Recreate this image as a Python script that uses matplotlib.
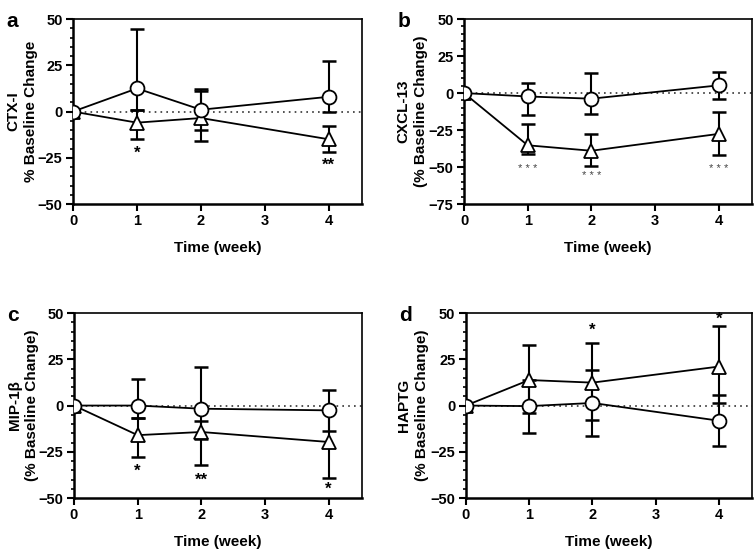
import numpy as np
import matplotlib
matplotlib.use("Agg")
import matplotlib.pyplot as plt
from matplotlib.ticker import MultipleLocator

plt.rcParams['font.family'] = ['Liberation Sans', 'DejaVu Sans']
plt.rcParams['font.weight'] = 'bold'

weeks = [0, 1, 2, 4]

## panel a - CTX-I
a_circ = [0, 12.5, 1, 8]
a_circ_hi = [0, 44.5, 12, 27.5]
a_circ_lo = [0, 0.8, -10, 0]
a_tri = [0, -6, -3.5, -15]
a_tri_hi = [0, 1, 11, -8]
a_tri_lo = [0, -15, -16, -22]
a_stars = [(1, -22.6, '*'), (4, -29.3, '**')]

## panel b - CXCL-13
b_circ = [0, -2.3, -3.8, 5.2]
b_circ_hi = [0, 7, 13.4, 14]
b_circ_lo = [0, -15, -14, -4]
b_tri = [0, -35.3, -39, -27.6]
b_tri_hi = [0, -20.6, -27.4, -12.9]
b_tri_lo = [0, -41.2, -49, -42]
b_stars = [(1, -51.4, '* * *'), (2, -56, '* * *'), (4, -51.4, '* * *')]

## panel c - MIP-1b
c_circ = [0, 0, -1.7, -2.6]
c_circ_hi = [0, 14.3, 20.8, 8.6]
c_circ_lo = [0, -6.8, -32.3, -14]
c_tri = [0, -16, -14.3, -19.7]
c_tri_hi = [0, -6.8, -8.2, -2.6]
c_tri_lo = [0, -27.7, -18, -39]
c_stars = [(1, -35.6, '*'), (2, -40.5, '**'), (4, -45, '*')]

## panel d - HAPTG
d_circ = [0, -0.3, 1.4, -8.2]
d_circ_hi = [0, 14, 19.3, 5.5]
d_circ_lo = [0, -14.9, -16.5, -21.8]
d_tri = [0, 13.8, 12.4, 21.1]
d_tri_hi = [0, 32.8, 34, 42.8]
d_tri_lo = [0, -3.9, -7.9, 1.4]
d_stars = [(2, 40.8, '*'), (4, 46.7, '*')]

panels = [
    ('a', 'CTX-I\n% Baseline Change', (-50, 50), [50, 25, 0, -25, -50],
     a_circ, a_circ_hi, a_circ_lo, a_tri, a_tri_hi, a_tri_lo, a_stars,
     [0.0967, 0.6304, 0.383, 0.335], -0.12),
    ('b', 'CXCL-13\n(% Baseline Change)', (-75, 50), [50, 25, 0, -25, -50, -75],
     b_circ, b_circ_hi, b_circ_lo, b_tri, b_tri_hi, b_tri_lo, b_stars,
     [0.6146, 0.6304, 0.381, 0.335], -0.125),
    ('c', 'MIP-1β\n(% Baseline Change)', (-50, 50), [50, 25, 0, -25, -50],
     c_circ, c_circ_hi, c_circ_lo, c_tri, c_tri_hi, c_tri_lo, c_stars,
     [0.098, 0.0978, 0.381, 0.335], -0.12),
    ('d', 'HAPTG\n(% Baseline Change)', (-50, 50), [50, 25, 0, -25, -50],
     d_circ, d_circ_hi, d_circ_lo, d_tri, d_tri_hi, d_tri_lo, d_stars,
     [0.617, 0.0978, 0.379, 0.335], -0.13),
]

fig = plt.figure(figsize=(7.55, 5.52), dpi=100)

for (letter, ylab, ylim, yticks, circ, circ_hi, circ_lo, tri, tri_hi, tri_lo,
     stars, pos, labx) in panels:
    ax = fig.add_axes(pos)
    ax.axhline(0, color='#333333', ls=(0, (1, 2.5)), lw=1.2, zorder=1)

    # error bars drawn from the read end points
    for y, hi, lo in [(circ, circ_hi, circ_lo), (tri, tri_hi, tri_lo)]:
        y = np.array(y)
        err = np.vstack([y - np.array(lo), np.array(hi) - y])
        ax.errorbar(weeks, y, yerr=err, fmt='none', ecolor='black',
                    elinewidth=1.5, capsize=5, capthick=1.8, zorder=2)

    ax.plot(weeks, tri, '-^', color='black', lw=1.3, ms=10, mfc='white',
            mec='black', mew=1.3, zorder=3)
    ax.plot(weeks, circ, '-o', color='black', lw=1.3, ms=10, mfc='white',
            mec='black', mew=1.3, zorder=4)

    for x, y, s in stars:
        if letter == 'b':
            ax.text(x, y, s, ha='center', va='center', fontsize=8,
                    color='#444444', fontweight='normal')
        else:
            ax.text(x, y, s, ha='center', va='center', fontsize=12,
                    fontweight='bold')

    ax.set_xlim(0, 4.52)
    ax.set_ylim(*ylim)
    ax.set_xticks([0, 1, 2, 3, 4])
    ax.set_yticks(yticks)
    ax.yaxis.set_minor_locator(MultipleLocator(5))
    for side in ['left', 'bottom', 'top', 'right']:
        ax.spines[side].set_linewidth(1.8 if side in ('left', 'bottom') else 1.2)
    ax.tick_params(axis='both', which='major', direction='out', length=5,
                   width=1.5, labelsize=10.5, pad=2.5)
    ax.tick_params(axis='y', which='minor', direction='out', length=2.5,
                   width=1.2)
    for lab in ax.get_xticklabels() + ax.get_yticklabels():
        lab.set_fontweight('bold')
    ax.set_xlabel('Time (week)', fontsize=11, fontweight='bold', labelpad=9)
    ax.set_ylabel(ylab, fontsize=11, fontweight='bold', linespacing=1.35)
    ax.yaxis.set_label_coords(labx, 0.5)
    ax.text(pos[0] - 0.088, pos[1] + pos[3] - 0.005, letter,
            transform=fig.transFigure, fontsize=15, fontweight='bold',
            ha='left', va='center')

fig.savefig('out.png', dpi=100)
